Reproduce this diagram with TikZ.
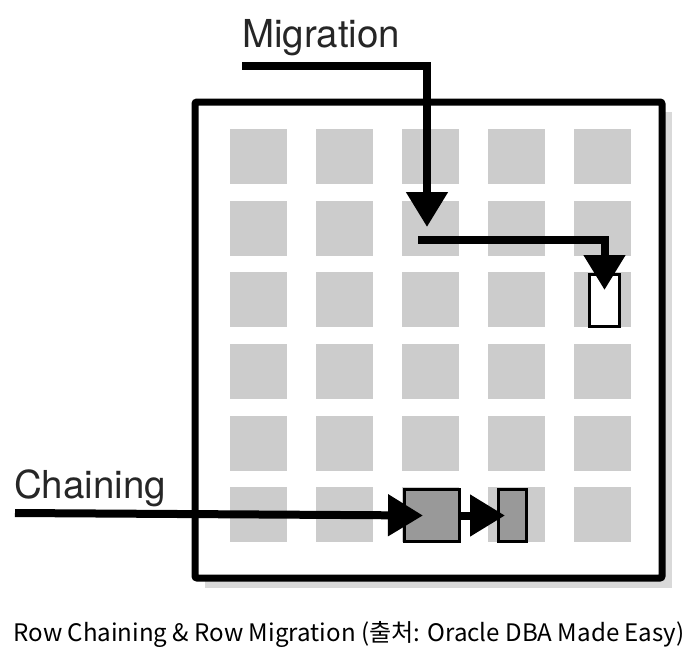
\documentclass[tikz,border=0pt]{standalone}
\usepackage{fontspec}
\usetikzlibrary{arrows.meta,positioning}
\newfontfamily\labelfont{TeX Gyre Heros}
\newfontfamily\capfont{Noto Sans CJK KR}
\definecolor{cellgray}{HTML}{CCCCCC}
\definecolor{rowgray}{HTML}{999999}
\begin{document}
\begin{tikzpicture}[x=1pt, y=-1pt, cell/.style={fill=cellgray, inner sep=0, minimum width=57pt, minimum height=55pt}, rowbox/.style={draw, line width=3pt, fill=rowgray, inner sep=0, minimum height=52pt}, lbl/.style={font=\labelfont\fontsize{38.5}{42}\selectfont, text=black!85, inner sep=0}, arrow/.style={-{Triangle[width=40pt, length=35pt]}, line width=8pt}]
\useasboundingbox (0,0) rectangle (697,659);
% block with shadow
\fill[black!15] (205,112) rectangle (672,588);
\draw[line width=7pt, fill=white, rounded corners=2pt] (195,102) rectangle (662,578);
\foreach \i in {0,...,4}
  \foreach \j in {0,...,5}
    \node[cell, anchor=north west] at (230+86*\i, 129+71.6*\j) {};
% rows
\node[rowbox, minimum width=55pt, anchor=north west] (row1) at (403,488) {};
\node[rowbox, minimum width=28pt, anchor=north west] (row2) at (497,488) {};
\node[draw, line width=3pt, fill=white, inner sep=0, minimum width=30pt, minimum height=52pt, anchor=north west] (moved) at (588,273) {};
% labels
\node[lbl, anchor=base west] (mig) at (242,47) {Migration};
\node[lbl, anchor=base west] (chain) at (14,498) {Chaining};
\node[font=\capfont\fontsize{24.1}{28}\selectfont, anchor=base] (cap) at (349,641) {Row Chaining \& Row Migration (출처: Oracle DBA Made Easy)};
% migration
\coordinate (m0) at (242,66);
\coordinate (m1) at (427,227);
\coordinate (m2) at (418,240);
\coordinate (m3) at ([yshift=-17pt]moved.north);
\draw[arrow] (m0) -| (m1);
\draw[arrow] (m2) -| (m3);
% chaining
\coordinate (c0) at (15,513);
\draw[arrow] (c0) -- ([xshift=20pt]row1.west);
\draw[arrow] (row1.east) -- ([xshift=8pt]row2.west);
\end{tikzpicture}
\end{document}
